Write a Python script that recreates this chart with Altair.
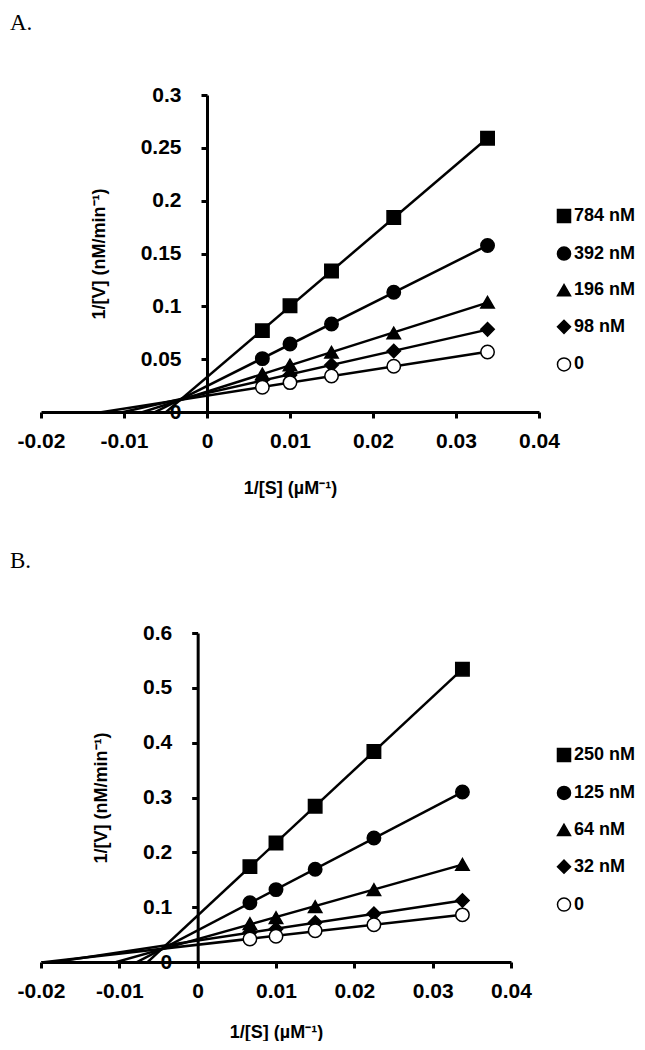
import altair as alt
import pandas as pd

# 1/[S] values (uM^-1)
x_vals = [0.00667, 0.01, 0.015, 0.0225, 0.0338]

# Panel A
a_series = ["784 nM", "392 nM", "196 nM", "98 nM", "0"]
a_784 = [0.077, 0.1005, 0.1335, 0.184, 0.259]
a_392 = [0.0505, 0.0644, 0.0833, 0.1133, 0.1575]
a_196 = [0.036, 0.0445, 0.0565, 0.0748, 0.1039]
a_98 = [0.0305, 0.0350, 0.0445, 0.0577, 0.0782]
a_0 = [0.0234, 0.0278, 0.0340, 0.0433, 0.0568]
a_values = [a_784, a_392, a_196, a_98, a_0]
a_yticks = [0, 0.05, 0.1, 0.15, 0.2, 0.25, 0.3]

# Panel B
b_series = ["250 nM", "125 nM", "64 nM", "32 nM", "0"]
b_250 = [0.174, 0.217, 0.284, 0.384, 0.534]
b_125 = [0.108, 0.132, 0.169, 0.226, 0.310]
b_64 = [0.070, 0.081, 0.101, 0.132, 0.178]
b_32 = [0.054, 0.060, 0.072, 0.088, 0.112]
b_0 = [0.042, 0.047, 0.057, 0.068, 0.086]
b_values = [b_250, b_125, b_64, b_32, b_0]
b_yticks = [0, 0.1, 0.2, 0.3, 0.4, 0.5, 0.6]

x_ticks = [-0.02, -0.01, 0, 0.01, 0.02, 0.03, 0.04]
x_domain = [-0.02, 0.04]

shapes = ["square", "circle", "triangle-up", "diamond", "circle"]
fills = ["black", "black", "black", "black", "white"]
strokes = ["black"] * 5

FONT = "Liberation Sans"


def panel(series_names, values, yticks, w, h, label, legend_x, legend_y, row_pad, x_title_pad):
    rows = []
    for name, vals in zip(series_names, values):
        for xv, yv in zip(x_vals, vals):
            rows.append({"x": xv, "y": yv, "series": name})
    df = pd.DataFrame(rows)

    xscale = alt.Scale(domain=x_domain, nice=False, zero=False)
    yscale = alt.Scale(domain=[yticks[0], yticks[-1]], nice=False)
    xaxis = alt.Axis(
        values=x_ticks,
        format="~g",
        title="1/[S] (µM⁻¹)",
        labelExpr="replace(datum.label, '\u2212', '-')",
        labelFlush=False,
        titlePadding=x_title_pad,
        labelPadding=12,
        domainWidth=3,
        tickWidth=3,
        tickSize=6,
    )
    yaxis = alt.Axis(
        values=yticks,
        format="~g",
        title="1/[V] (nM/min⁻¹)",
        offset=-w / 3.0,
        labelFlush=False,
        labelPadding=20,
        titlePadding=32,
        domainWidth=3,
        tickWidth=3,
        tickSize=6,
    )

    lines = (
        alt.Chart(df)
        .transform_regression("x", "y", groupby=["series"], extent=[x_domain[0], x_vals[-1]])
        .mark_line(clip=True, color="black", strokeWidth=2.5)
        .encode(
            x=alt.X("x:Q", scale=xscale, axis=xaxis),
            y=alt.Y("y:Q", scale=yscale, axis=yaxis),
            detail=alt.Detail("series:N"),
        )
    )
    legend = alt.Legend(
        title=None,
        orient="none",
        legendX=legend_x,
        legendY=legend_y,
        labelFont=FONT,
        labelFontSize=18,
        labelFontWeight="bold",
        labelColor="black",
        symbolSize=170,
        symbolStrokeColor="black",
        symbolStrokeWidth=1.5,
        rowPadding=row_pad,
        labelOffset=1,
        padding=0,
    )
    points = (
        alt.Chart(df)
        .mark_point(filled=True, opacity=1, fillOpacity=1, strokeWidth=1.5, size=180)
        .encode(
            x=alt.X("x:Q", scale=xscale),
            y=alt.Y("y:Q", scale=yscale),
            shape=alt.Shape("series:N", scale=alt.Scale(domain=series_names, range=shapes), legend=legend, sort=series_names),
            fill=alt.Fill("series:N", scale=alt.Scale(domain=series_names, range=fills), legend=legend, sort=series_names),
            stroke=alt.Stroke("series:N", scale=alt.Scale(domain=series_names, range=strokes), legend=legend, sort=series_names),
        )
    )
    return alt.layer(lines, points).properties(
        width=w,
        height=h,
        title=alt.TitleParams(
            label,
            anchor="start",
            frame="group",
            font="Liberation Serif",
            fontSize=23,
            fontWeight="normal",
            color="black",
            dx=-31,
            offset=49,
        ),
    )


chart_a = panel(a_series, a_values, a_yticks, 498, 317, "A.", 514, 112, 17.6, 28)
chart_b = panel(b_series, b_values, b_yticks, 470, 329, "B.", 514, 113, 17.9, 22)

chart = (
    alt.vconcat(chart_a, chart_b, spacing=53)
    .resolve_scale(x="independent", y="independent", shape="independent", fill="independent", stroke="independent")
    .properties(padding={"left": 2, "top": 4, "right": 0, "bottom": 0})
    .configure_view(stroke=None)
    .configure_axis(
        grid=False,
        domainColor="black",
        domainWidth=3,
        tickColor="black",
        tickWidth=3,
        tickSize=6,
        labelFont=FONT,
        labelFontSize=21,
        labelFontWeight="bold",
        labelColor="black",
        titleFont=FONT,
        titleFontSize=18,
        titleFontWeight="bold",
        titleColor="black",
    )
)

chart.save("out.html", embed_options={"renderer": "svg", "actions": False})
